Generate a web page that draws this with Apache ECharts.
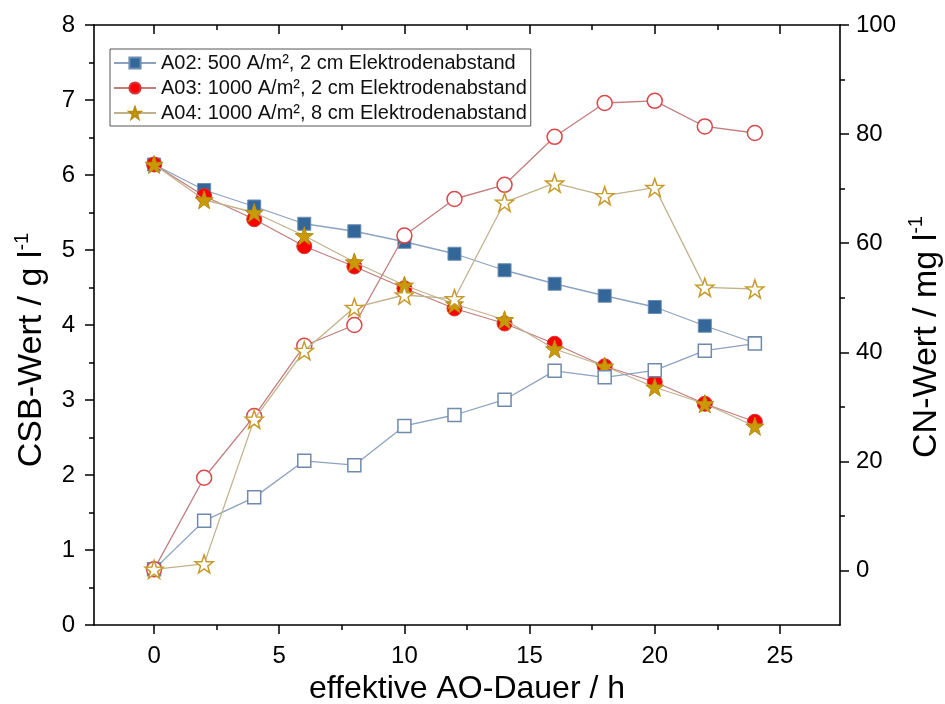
<!DOCTYPE html>
<html>
<head>
<meta charset="utf-8">
<script src="https://cdn.jsdelivr.net/npm/echarts@6/dist/echarts.min.js"></script>
<style>
  html, body { margin: 0; padding: 0; background: #fff; }
  #chart { width: 945px; height: 704px; }
</style>
</head>
<body>
<div id="chart"></div>
<script>
// ---- data ----
const hours   = [0, 2, 4, 6, 8, 10, 12, 14, 16, 18, 20, 22, 24];
const a02Csb  = [6.14, 5.80, 5.58, 5.35, 5.25, 5.11, 4.95, 4.73, 4.55, 4.39, 4.24, 3.99, 3.76];
const a03Csb  = [6.14, 5.72, 5.41, 5.05, 4.78, 4.49, 4.22, 4.02, 3.75, 3.45, 3.24, 2.95, 2.71];
const a04Csb  = [6.14, 5.67, 5.50, 5.19, 4.84, 4.53, 4.28, 4.07, 3.68, 3.45, 3.17, 2.95, 2.65];
const a02Cn   = [0.2, 9.1, 13.4, 20.1, 19.3, 26.5, 28.5, 31.3, 36.6, 35.4, 36.7, 40.3, 41.6];
const a03Cn   = [0.2, 17.0, 28.3, 41.2, 45.0, 61.4, 68.1, 70.7, 79.5, 85.7, 86.1, 81.4, 80.2];
const a04Cn   = [0.2, 1.2, 27.7, 40.3, 48.2, 50.5, 49.8, 67.5, 71.0, 68.7, 70.2, 51.9, 51.6];
const seriesNames = [
  'A02: 500 A/m², 2 cm Elektrodenabstand',
  'A03: 1000 A/m², 2 cm Elektrodenabstand',
  'A04: 1000 A/m², 8 cm Elektrodenabstand'
];
const xMajorTicks  = [0, 5, 10, 15, 20, 25];
const xMinorTicks  = [2.5, 7.5, 12.5, 17.5, 22.5];
const yRightMajor  = [0, 20, 40, 60, 80, 100];
const yRightMinor  = [10, 30, 50, 70, 90];

// ---- chart ----
const FONT = "'Liberation Sans', Arial, sans-serif";
const STAR = 'path://M50 0 L61.76 33.82 L97.55 34.55 L69.02 56.18 L79.39 90.45 L50 70 L20.61 90.45 L30.98 56.18 L2.45 34.55 L38.24 33.82 Z';
const pairs = arr => hours.map((h, i) => [h, arr[i]]);
const axisLine = { show: true, onZero: false, lineStyle: { color: '#000', width: 1.6 } };
const noLine = { show: false, onZero: false };

const chart = echarts.init(document.getElementById('chart'), null, { renderer: 'canvas' });

function lineSeries(name, data, yIdx, symbol, size, color, border, lineColor, z) {
  return {
    name, type: 'line', xAxisIndex: 0, yAxisIndex: yIdx, data: pairs(data),
    symbol, symbolSize: size, z,
    lineStyle: { color: lineColor, width: 1.3 },
    itemStyle: { color: color, borderColor: border, borderWidth: color === '#ffffff' ? 1.5 : 1 },
    emphasis: { disabled: true }
  };
}

const option = {
  animation: false,
  backgroundColor: '#ffffff',
  textStyle: { fontFamily: FONT },
  grid: { left: 94, right: 105, top: 25, bottom: 79, containLabel: false, outerBoundsMode: 'none' },
  legend: {
    data: seriesNames,
    orient: 'vertical',
    left: 110, top: 49,
    itemWidth: 42, itemHeight: 14, itemGap: 3,
    padding: [3, 4, 2, 3],
    borderColor: '#555', borderWidth: 1,
    textStyle: { fontSize: 20, color: '#111', fontFamily: FONT, lineHeight: 22 }
  },
  xAxis: [
    {
      type: 'value', position: 'bottom', min: -2.4, max: 27.4,
      axisLine,
      axisTick: { show: true, inside: false, length: 9, customValues: xMajorTicks, lineStyle: { color: '#000', width: 1.5 } },
      axisLabel: { customValues: xMajorTicks, fontSize: 24, color: '#000', margin: 19, fontFamily: FONT },
      splitLine: { show: false },
      name: 'effektive AO-Dauer / h', nameLocation: 'middle', nameGap: 47,
      nameTextStyle: { fontSize: 32, color: '#000', fontFamily: FONT }
    },
    {
      type: 'value', position: 'bottom', min: -2.4, max: 27.4,
      axisLine: noLine,
      axisTick: { show: true, inside: false, length: 5, customValues: xMinorTicks, lineStyle: { color: '#000', width: 1.5 } },
      axisLabel: { show: false }, splitLine: { show: false }
    },
    {
      type: 'value', position: 'top', min: -2.4, max: 27.4,
      axisLine,
      axisTick: { show: true, inside: true, length: 9, customValues: xMajorTicks, lineStyle: { color: '#000', width: 1.5 } },
      axisLabel: { show: false }, splitLine: { show: false }
    },
    {
      type: 'value', position: 'top', min: -2.4, max: 27.4,
      axisLine: noLine,
      axisTick: { show: true, inside: true, length: 5, customValues: xMinorTicks, lineStyle: { color: '#000', width: 1.5 } },
      axisLabel: { show: false }, splitLine: { show: false }
    }
  ],
  yAxis: [
    {
      type: 'value', position: 'left', min: 0, max: 8, interval: 1,
      axisLine,
      axisTick: { show: true, inside: false, length: 9, lineStyle: { color: '#000', width: 1.5 } },
      minorTick: { show: true, splitNumber: 2, length: 5, lineStyle: { color: '#000', width: 1.5 } },
      axisLabel: { fontSize: 24, color: '#000', margin: 19, fontFamily: FONT },
      splitLine: { show: false }, minorSplitLine: { show: false },
      name: '{a|CSB-Wert / g l}{sup|-1}', nameLocation: 'middle', nameGap: 42, nameRotate: 90,
      nameTextStyle: {
        color: '#000', fontFamily: FONT, padding: [0, 50, 0, 0],
        rich: { a: { fontSize: 34, color: '#000', fontFamily: FONT, lineHeight: 40 },
                sup: { fontSize: 20, color: '#000', fontFamily: FONT, verticalAlign: 'top', lineHeight: 20 } }
      }
    },
    {
      type: 'value', position: 'right', min: -10, max: 100,
      axisLine,
      axisTick: { show: true, inside: false, length: 9, customValues: yRightMajor, lineStyle: { color: '#000', width: 1.5 } },
      axisLabel: { customValues: yRightMajor, fontSize: 24, color: '#000', margin: 16, fontFamily: FONT },
      splitLine: { show: false },
      name: '{a|CN-Wert / mg l}{sup|-1}', nameLocation: 'middle', nameGap: 66, nameRotate: 90,
      nameTextStyle: {
        color: '#000', fontFamily: FONT, padding: [0, 24, 0, 0],
        rich: { a: { fontSize: 34, color: '#000', fontFamily: FONT, lineHeight: 40 },
                sup: { fontSize: 20, color: '#000', fontFamily: FONT, verticalAlign: 'top', lineHeight: 20 } }
      }
    },
    {
      type: 'value', position: 'right', min: -10, max: 100,
      axisLine: noLine,
      axisTick: { show: true, inside: false, length: 5, customValues: yRightMinor, lineStyle: { color: '#000', width: 1.5 } },
      axisLabel: { show: false }, splitLine: { show: false }
    }
  ],
  series: [
    lineSeries(seriesNames[0], a02Csb, 0, 'rect',   13, '#336699', '#6d8db3', '#8da2c0', 2),
    lineSeries(seriesNames[1], a03Csb, 0, 'circle', 15, '#ff0000', '#d23a3a', '#c27d7d', 3),
    lineSeries(seriesNames[2], a04Csb, 0, STAR,     18, '#c99a06', '#b88c10', '#c2b28c', 4),
    lineSeries(seriesNames[0], a02Cn,  1, 'rect',   13, '#ffffff', '#6f8aab', '#8da2c0', 5),
    lineSeries(seriesNames[1], a03Cn,  1, 'circle', 15, '#ffffff', '#d9474a', '#c27d7d', 6),
    lineSeries(seriesNames[2], a04Cn,  1, STAR,     18, '#ffffff', '#c79a2a', '#c2b28c', 7)
  ]
};
chart.setOption(option);
</script>
</body>
</html>
